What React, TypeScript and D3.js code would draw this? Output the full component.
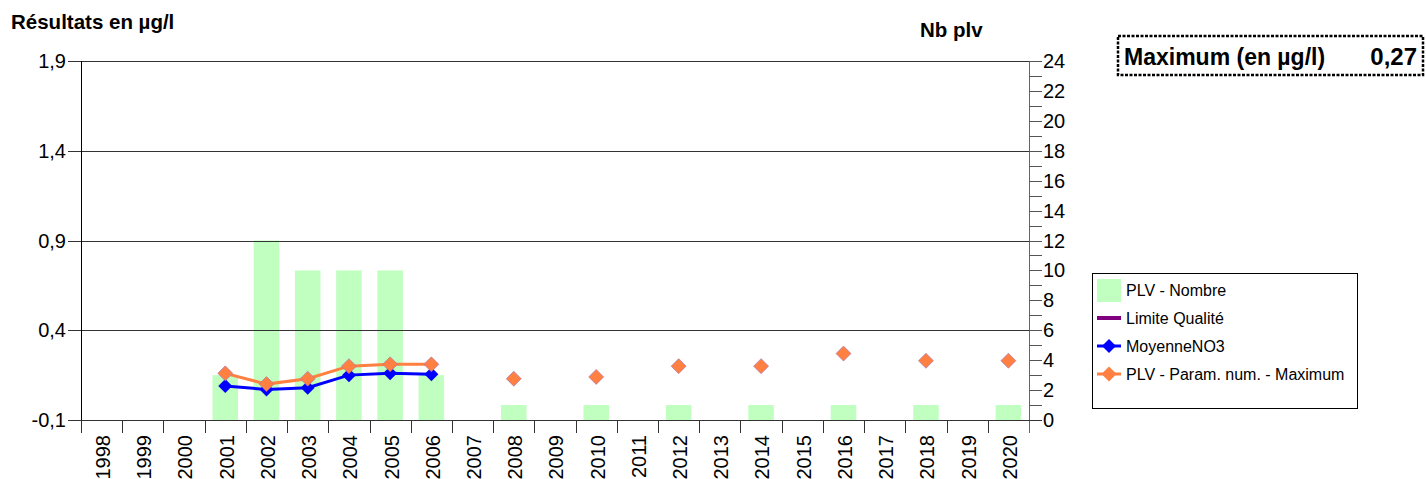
import React from "react";
import * as d3 from "d3";

const years = ["1998","1999","2000","2001","2002","2003","2004","2005","2006","2007","2008","2009","2010","2011","2012","2013","2014","2015","2016","2017","2018","2019","2020"];
const nbPlv: (number | null)[] = [null,null,null,3,12,10,10,10,3,null,1,null,1,null,1,null,1,null,1,null,1,null,1];
const moyenneNO3: (number | null)[] = [null,null,null,0.09,0.07,0.08,0.15,0.16,0.155,null,null,null,null,null,null,null,null,null,null,null,null,null,null];
const maximum: (number | null)[] = [null,null,null,0.16,0.10,0.13,0.20,0.21,0.21,null,0.13,null,0.14,null,0.20,null,0.20,null,0.27,null,0.23,null,0.23];
const leftTicks = [-0.1, 0.4, 0.9, 1.4, 1.9];
const leftTickLabels = ["-0,1", "0,4", "0,9", "1,4", "1,9"];
const rightTicks = [0,1,2,3,4,5,6,7,8,9,10,11,12,13,14,15,16,17,18,19,20,21,22,23,24];
const rightTickLabels = ["0","2","4","6","8","10","12","14","16","18","20","22","24"];
const legendItems = ["PLV - Nombre", "Limite Qualité", "MoyenneNO3", "PLV - Param. num. - Maximum"];
const maxLabel = "Maximum (en µg/l)";
const maxValue = "0,27";

const W = 1426, H = 479;
const L = 81, R = 1029, T = 61, B = 420;
const FONT = "Arial, 'Liberation Sans', sans-serif";

export default function App() {
  const x = d3.scaleBand<string>().domain(years).range([L, R]).padding(0);
  const yL = d3.scaleLinear().domain([-0.1, 1.9]).range([B, T]);
  const yR = d3.scaleLinear().domain([0, 24]).range([B, T]);
  const bw = x.bandwidth();
  const barW = bw * 0.62;
  const cx = (i: number) => (x(years[i]) as number) + bw / 2;

  const line = d3.line<number | null>()
    .defined((d) => d != null)
    .x((_, i) => cx(i))
    .y((d) => yL(d as number));

  const diamond = (px: number, py: number, r: number) =>
    `M${px},${py - r}L${px + r},${py}L${px},${py + r}L${px - r},${py}Z`;

  const legX = 1092, legY = 273, legW = 265, legH = 135;
  const rowY = [290, 318, 346, 374];

  return (
    <svg width={W} height={H} style={{ position: "absolute", left: 0, top: 0, background: "#fff" }} fontFamily={FONT}>
      <rect x={0} y={0} width={W} height={H} fill="#fff" />
      {/* titles */}
      <text x={11} y={29} fontSize={20.5} fontWeight="bold" fill="#000">Résultats en µg/l</text>
      <text x={920} y={37} fontSize={20.5} fontWeight="bold" fill="#000">Nb plv</text>

      {/* bars */}
      {nbPlv.map((v, i) =>
        v == null ? null : (
          <rect key={"b" + i} x={cx(i) - barW / 2} y={yR(v)} width={barW} height={B - yR(v)} fill="#c0ffc0" />
        )
      )}

      {/* gridlines & left ticks */}
      {leftTicks.map((t, i) => (
        <g key={"lt" + i}>
          <line x1={68} x2={R} y1={Math.round(yL(t)) + 0.5} y2={Math.round(yL(t)) + 0.5} stroke="#333" strokeWidth={1} />
          <text x={66} y={yL(t)} dy="0.35em" textAnchor="end" fontSize={20} fill="#000">{leftTickLabels[i]}</text>
        </g>
      ))}
      {/* left axis */}
      <line x1={L + 0.5} x2={L + 0.5} y1={T} y2={B + 13} stroke="#000" strokeWidth={1} />
      {/* right axis */}
      <line x1={R + 0.5} x2={R + 0.5} y1={T} y2={B + 13} stroke="#666" strokeWidth={1} />
      {rightTicks.map((t) => (
        <line key={"rt" + t} x1={R} x2={R + 13} y1={Math.round(yR(t)) + 0.5} y2={Math.round(yR(t)) + 0.5} stroke="#555" strokeWidth={1} />
      ))}
      {rightTicks.filter((t) => t % 2 === 0).map((t, i) => (
        <text key={"rl" + t} x={1043} y={yR(t)} dy="0.35em" fontSize={20} fill="#000">{rightTickLabels[i]}</text>
      ))}
      {/* bottom axis */}
      <line x1={68} x2={R + 13} y1={B + 0.5} y2={B + 0.5} stroke="#333" strokeWidth={1} />
      {years.map((yr, i) => (
        <line key={"xt" + i} x1={Math.round(x(yr) as number) + 0.5} x2={Math.round(x(yr) as number) + 0.5} y1={B} y2={B + 13} stroke="#333" strokeWidth={1} />
      ))}
      {years.map((yr, i) => (
        <text key={"xl" + i} transform={`translate(${cx(i)},${435}) rotate(-90)`} textAnchor="end" dy="0.42em" fontSize={20} fill="#000">{yr}</text>
      ))}

      {/* lines */}
      <path d={line(maximum) || ""} fill="none" stroke="#ff8040" strokeWidth={3} />
      <path d={line(moyenneNO3) || ""} fill="none" stroke="#0000ff" strokeWidth={3} />
      {moyenneNO3.map((v, i) =>
        v == null ? null : <path key={"m" + i} d={diamond(cx(i), yL(v), 7)} fill="#0000ff" />
      )}
      {maximum.map((v, i) =>
        v == null ? null : <path key={"x" + i} d={diamond(cx(i), yL(v), 7.5)} fill="#ff8040" stroke="#9a70c0" strokeWidth={0.6} />
      )}

      {/* legend */}
      <rect x={legX + 0.5} y={legY + 0.5} width={legW} height={legH} fill="#fff" stroke="#000" strokeWidth={1} />
      <rect x={1097} y={rowY[0] - 11} width={24} height={23} fill="#c0ffc0" />
      <rect x={1097} y={rowY[1] - 2} width={24} height={4} fill="#800080" />
      <line x1={1097} x2={1121} y1={rowY[2]} y2={rowY[2]} stroke="#0000ff" strokeWidth={3} />
      <path d={diamond(1109, rowY[2], 7)} fill="#0000ff" />
      <line x1={1097} x2={1121} y1={rowY[3]} y2={rowY[3]} stroke="#ff8040" strokeWidth={3} />
      <path d={diamond(1109, rowY[3], 7.5)} fill="#ff8040" />
      {legendItems.map((s, i) => (
        <text key={"lg" + i} x={1126} y={rowY[i]} dy="0.35em" fontSize={16} fill="#000">{s}</text>
      ))}

      {/* maximum box */}
      <rect x={1118} y={36} width={305} height={39} fill="none" stroke="#000" strokeWidth={2.5} strokeDasharray="3 1.5" />
      <text x={1124} y={65} fontSize={23} fontWeight="bold" fill="#000">{maxLabel}</text>
      <text x={1417} y={65} textAnchor="end" fontSize={24} fontWeight="bold" fill="#000">{maxValue}</text>
    </svg>
  );
}
